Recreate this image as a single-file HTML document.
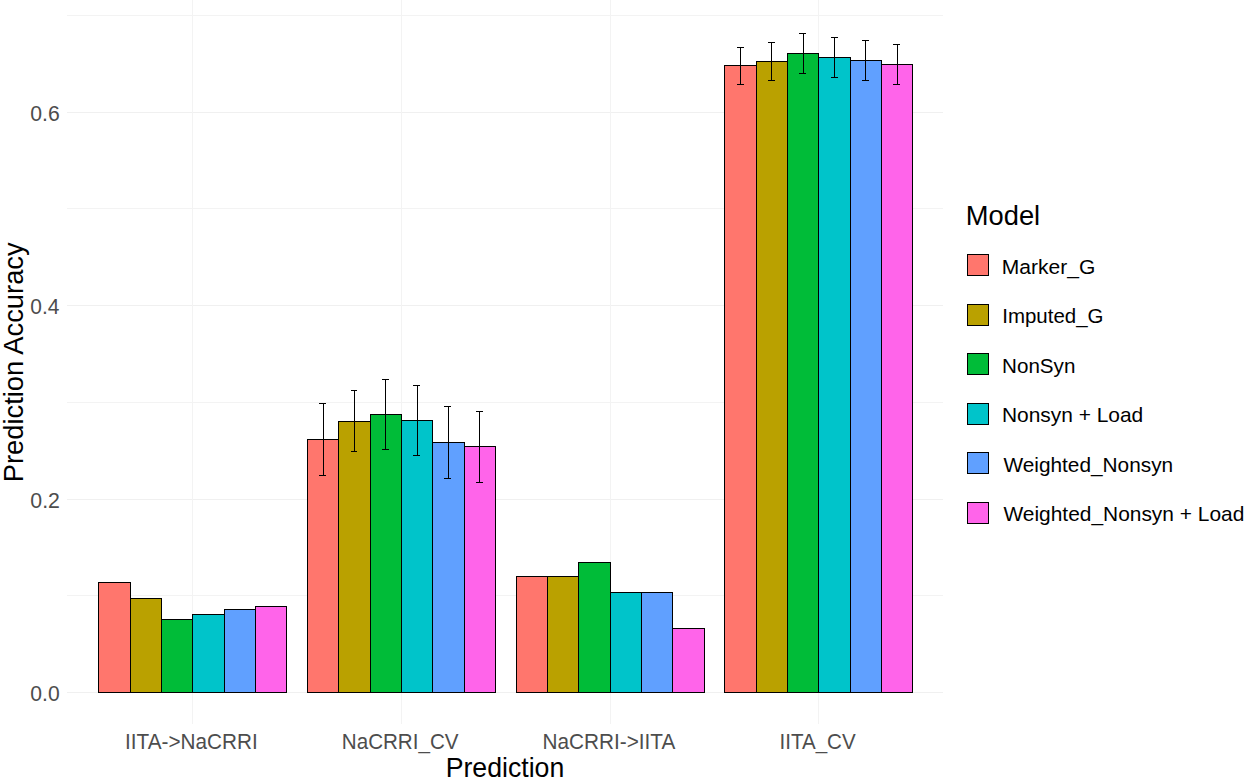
<!DOCTYPE html>
<html><head><meta charset="utf-8"><title>Prediction Accuracy</title>
<style>
html,body{margin:0;padding:0;background:#fff;}
body{width:1250px;height:777px;overflow:hidden;font-family:"Liberation Sans",sans-serif;}
svg{display:block;}
text{font-family:"Liberation Sans",sans-serif;}
</style></head><body>
<svg width="1250" height="777" viewBox="0 0 1250 777">
<rect x="0" y="0" width="1250" height="777" fill="#ffffff"/>

<g shape-rendering="crispEdges">
<rect x="67" y="15" width="876" height="1" fill="#F3F3F3"/>
<rect x="67" y="208" width="876" height="1" fill="#F3F3F3"/>
<rect x="67" y="402" width="876" height="1" fill="#F3F3F3"/>
<rect x="67" y="595" width="876" height="1" fill="#F3F3F3"/>
<rect x="67" y="112" width="876" height="1" fill="#F0F0F0"/>
<rect x="67" y="305" width="876" height="1" fill="#F0F0F0"/>
<rect x="67" y="499" width="876" height="1" fill="#F0F0F0"/>
<rect x="67" y="692" width="876" height="1" fill="#F0F0F0"/>
<rect x="192" y="0" width="1" height="724" fill="#F3F3F3"/>
<rect x="401" y="0" width="1" height="724" fill="#F3F3F3"/>
<rect x="610" y="0" width="1" height="724" fill="#F3F3F3"/>
<rect x="818" y="0" width="1" height="724" fill="#F3F3F3"/>
</g>
<g shape-rendering="crispEdges" stroke="#000" stroke-width="1">
<rect x="98.5" y="582.5" width="32" height="110" fill="#FF766D"/>
<rect x="130.5" y="598.5" width="31" height="94" fill="#BAA100"/>
<rect x="161.5" y="619.5" width="31" height="73" fill="#00BC38"/>
<rect x="192.5" y="614.5" width="32" height="78" fill="#00C4CA"/>
<rect x="224.5" y="609.5" width="31" height="83" fill="#60A0FF"/>
<rect x="255.5" y="606.5" width="31" height="86" fill="#FF64EA"/>
<rect x="307.5" y="439.5" width="31" height="253" fill="#FF766D"/>
<rect x="338.5" y="421.5" width="32" height="271" fill="#BAA100"/>
<rect x="370.5" y="414.5" width="31" height="278" fill="#00BC38"/>
<rect x="401.5" y="420.5" width="31" height="272" fill="#00C4CA"/>
<rect x="432.5" y="442.5" width="32" height="250" fill="#60A0FF"/>
<rect x="464.5" y="446.5" width="31" height="246" fill="#FF64EA"/>
<rect x="516.5" y="576.5" width="31" height="116" fill="#FF766D"/>
<rect x="547.5" y="576.5" width="31" height="116" fill="#BAA100"/>
<rect x="578.5" y="562.5" width="32" height="130" fill="#00BC38"/>
<rect x="610.5" y="592.5" width="31" height="100" fill="#00C4CA"/>
<rect x="641.5" y="592.5" width="31" height="100" fill="#60A0FF"/>
<rect x="672.5" y="628.5" width="32" height="64" fill="#FF64EA"/>
<rect x="724.5" y="65.5" width="32" height="627" fill="#FF766D"/>
<rect x="756.5" y="61.5" width="31" height="631" fill="#BAA100"/>
<rect x="787.5" y="53.5" width="31" height="639" fill="#00BC38"/>
<rect x="818.5" y="57.5" width="32" height="635" fill="#00C4CA"/>
<rect x="850.5" y="60.5" width="31" height="632" fill="#60A0FF"/>
<rect x="881.5" y="64.5" width="31" height="628" fill="#FF64EA"/>
</g>
<g shape-rendering="crispEdges" fill="#000">
<rect x="323" y="403" width="1" height="73"/>
<rect x="319" y="403" width="7" height="1"/>
<rect x="319" y="475" width="7" height="1"/>
<rect x="354" y="390" width="1" height="62"/>
<rect x="351" y="390" width="6" height="1"/>
<rect x="351" y="451" width="6" height="1"/>
<rect x="385" y="379" width="1" height="71"/>
<rect x="382" y="379" width="7" height="1"/>
<rect x="382" y="449" width="7" height="1"/>
<rect x="417" y="385" width="1" height="71"/>
<rect x="413" y="385" width="7" height="1"/>
<rect x="413" y="455" width="7" height="1"/>
<rect x="448" y="406" width="1" height="73"/>
<rect x="444" y="406" width="7" height="1"/>
<rect x="444" y="478" width="7" height="1"/>
<rect x="479" y="411" width="1" height="72"/>
<rect x="476" y="411" width="7" height="1"/>
<rect x="476" y="482" width="7" height="1"/>
<rect x="740" y="47" width="1" height="38"/>
<rect x="737" y="47" width="7" height="1"/>
<rect x="737" y="84" width="7" height="1"/>
<rect x="771" y="42" width="1" height="39"/>
<rect x="768" y="42" width="7" height="1"/>
<rect x="768" y="80" width="7" height="1"/>
<rect x="803" y="33" width="1" height="41"/>
<rect x="799" y="33" width="7" height="1"/>
<rect x="799" y="73" width="7" height="1"/>
<rect x="834" y="37" width="1" height="41"/>
<rect x="831" y="37" width="7" height="1"/>
<rect x="831" y="77" width="7" height="1"/>
<rect x="865" y="40" width="1" height="41"/>
<rect x="862" y="40" width="7" height="1"/>
<rect x="862" y="80" width="7" height="1"/>
<rect x="897" y="44" width="1" height="41"/>
<rect x="893" y="44" width="7" height="1"/>
<rect x="893" y="84" width="7" height="1"/>
</g>
<g shape-rendering="crispEdges" stroke="#000" stroke-width="1">
<rect x="967.5" y="254.5" width="21" height="21" fill="#FF766D"/>
<rect x="967.5" y="304.5" width="21" height="21" fill="#BAA100"/>
<rect x="967.5" y="353.5" width="21" height="21" fill="#00BC38"/>
<rect x="967.5" y="403.5" width="21" height="21" fill="#00C4CA"/>
<rect x="967.5" y="452.5" width="21" height="21" fill="#60A0FF"/>
<rect x="967.5" y="502.5" width="21" height="21" fill="#FF64EA"/>
</g>
<text transform="translate(965.82,224.7) scale(1.0115,1)" font-size="27" fill="#000">Model</text>
<text transform="translate(1001.82,273.6) scale(1.0166,1)" font-size="20.7" fill="#000">Marker_G</text>
<text transform="translate(1002.25,322.8) scale(0.9891,1)" font-size="20.7" fill="#000">Imputed_G</text>
<text transform="translate(1002.06,372.5) scale(0.9957,1)" font-size="20.7" fill="#000">NonSyn</text>
<text transform="translate(1001.93,421.8) scale(1.0115,1)" font-size="20.7" fill="#000">Nonsyn + Load</text>
<text transform="translate(1003.47,471.8) scale(1.0057,1)" font-size="20.7" fill="#000">Weighted_Nonsyn</text>
<text transform="translate(1003.47,520.9) scale(1.0108,1)" font-size="20.7" fill="#000">Weighted_Nonsyn + Load</text>
<text transform="translate(125.05,748.8) scale(0.9737,1)" font-size="21.3" fill="#4D4D4D">IITA-&gt;NaCRRI</text>
<text transform="translate(341.81,748.8) scale(0.9674,1)" font-size="21.3" fill="#4D4D4D">NaCRRI_CV</text>
<text transform="translate(542.59,748.8) scale(0.9747,1)" font-size="21.3" fill="#4D4D4D">NaCRRI-&gt;IITA</text>
<text transform="translate(779.47,748.8) scale(0.9655,1)" font-size="21.3" fill="#4D4D4D">IITA_CV</text>
<text transform="translate(30.34,120.8) scale(0.9813,1)" font-size="21.6" fill="#4D4D4D">0.6</text>
<text transform="translate(30.35,313.8) scale(0.9684,1)" font-size="21.6" fill="#4D4D4D">0.4</text>
<text transform="translate(30.34,507.7) scale(0.9857,1)" font-size="21.6" fill="#4D4D4D">0.2</text>
<text transform="translate(30.35,700.8) scale(0.9770,1)" font-size="21.6" fill="#4D4D4D">0.0</text>
<text transform="translate(445.68,776.8) scale(0.9886,1)" font-size="27" fill="#000">Prediction</text>
<text transform="translate(23.0,482.28) rotate(-90) scale(1.0126,1)" font-size="27" fill="#000">Prediction Accuracy</text>
</svg></body></html>
